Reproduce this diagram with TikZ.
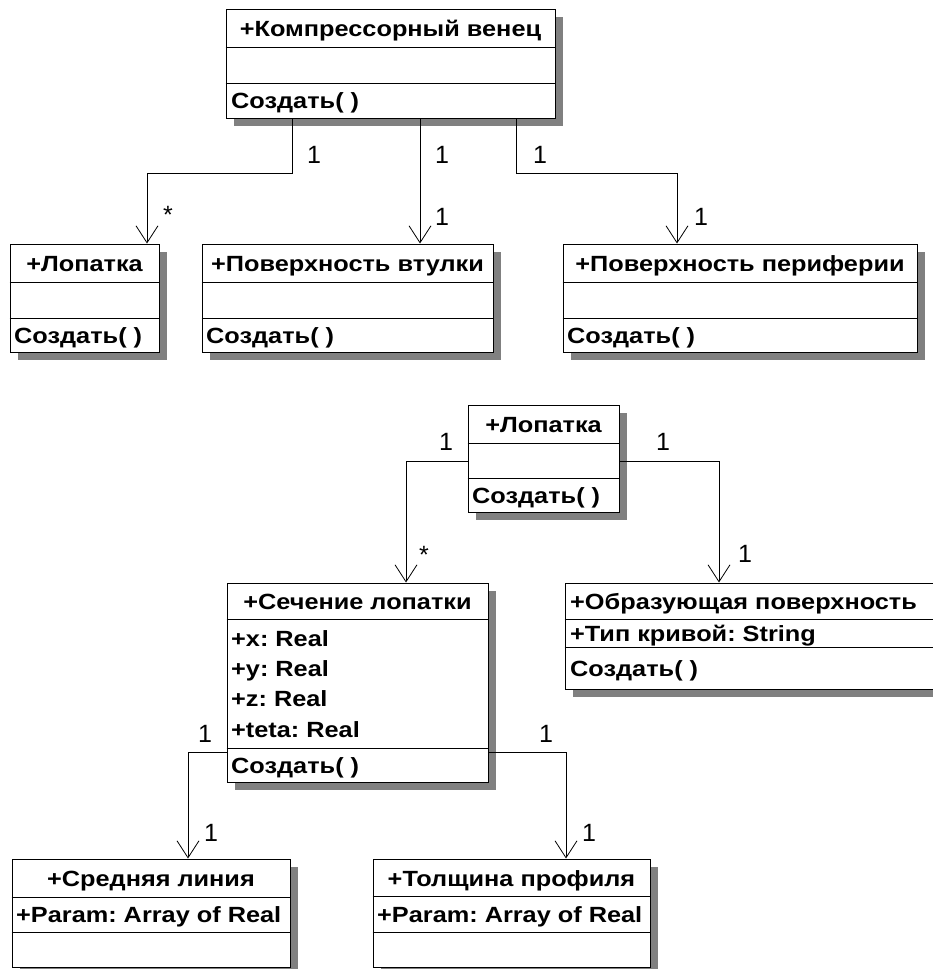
\documentclass[tikz,border=0pt]{standalone}
\usepackage{fontspec}
\setmainfont{Liberation Sans}
\newfontfamily\umlfont{Liberation Sans}[FakeStretch=1.15]
\usetikzlibrary{arrows.meta,shadows}

\tikzset{
  cls/.style={draw, line width=1pt, fill=white, inner sep=0pt,
    general shadow={fill=black!50, shadow xshift=8pt, shadow yshift=-8pt}},
  sep/.style={line width=0.8pt},
  hdr/.style={font=\umlfont\bfseries\fontsize{22}{26}\selectfont, inner sep=0pt,
    text height=15pt, text depth=0pt},
  memb/.style={hdr, anchor=west},
  mult/.style={font=\fontsize{25}{29}\selectfont, inner sep=0pt,
    text height=18pt, text depth=0pt},
  assoc/.style={line width=0.8pt, -{Straight Barb[length=17pt,width=22pt,line width=0.8pt]}}
}

\begin{document}
\frenchspacing
\begin{tikzpicture}[x=1pt, y=-1pt]
    \useasboundingbox (0,0) rectangle (933,969);

    % upper diagram
    \node[cls, minimum width=329pt, minimum height=109pt] (kv) at (390.5,63.5) {};
    \draw[sep] (kv.west |- 0,47) -- (kv.east |- 0,47);
    \draw[sep] (kv.west |- 0,83) -- (kv.east |- 0,83);
    \node[hdr] (kvname) at (kv.center |- 0,29) {+Компрессорный венец};
    \node[memb] (kvop) at (231,101) {Создать( )};

    \node[cls, minimum width=149pt, minimum height=108pt] (lopa) at (84.5,298) {};
    \draw[sep] (lopa.west |- 0,282) -- (lopa.east |- 0,282);
    \draw[sep] (lopa.west |- 0,318) -- (lopa.east |- 0,318);
    \node[hdr] (lopaname) at (lopa.center |- 0,264) {+Лопатка};
    \node[memb] (lopaop) at (14,336) {Создать( )};

    \node[cls, minimum width=291pt, minimum height=108pt] (vtul) at (347.5,298) {};
    \draw[sep] (vtul.west |- 0,282) -- (vtul.east |- 0,282);
    \draw[sep] (vtul.west |- 0,318) -- (vtul.east |- 0,318);
    \node[hdr] (vtulname) at (vtul.center |- 0,264) {+Поверхность втулки};
    \node[memb] (vtulop) at (206,336) {Создать( )};

    \node[cls, minimum width=354pt, minimum height=108pt] (perif) at (740,298) {};
    \draw[sep] (perif.west |- 0,282) -- (perif.east |- 0,282);
    \draw[sep] (perif.west |- 0,318) -- (perif.east |- 0,318);
    \node[hdr] (perifname) at (perif.center |- 0,264) {+Поверхность периферии};
    \node[memb] (perifop) at (567,336) {Создать( )};

    \draw[assoc] (292,0 |- kv.south) -- (292,173) -| (147,0 |- lopa.north);
    \draw[assoc] (420,0 |- kv.south) -- (420,0 |- vtul.north);
    \draw[assoc] (516,0 |- kv.south) -- (516,173) -| (677,0 |- perif.north);

    \node[mult] (m1) at (314,154) {1};
    \node[mult] (m2) at (168,214) {*};
    \node[mult] (m3) at (442,154) {1};
    \node[mult] (m4) at (442,216) {1};
    \node[mult] (m5) at (540,154) {1};
    \node[mult] (m6) at (701,216) {1};

    % lower diagram
    \node[cls, minimum width=151pt, minimum height=107pt] (lopb) at (543.5,458.5) {};
    \draw[sep] (lopb.west |- 0,443) -- (lopb.east |- 0,443);
    \draw[sep] (lopb.west |- 0,478) -- (lopb.east |- 0,478);
    \node[hdr] (lopbname) at (lopb.center |- 0,425) {+Лопатка};
    \node[memb] (lopbop) at (472,496) {Создать( )};

    \node[cls, minimum width=261pt, minimum height=199pt] (sech) at (357.5,682.5) {};
    \draw[sep] (sech.west |- 0,619) -- (sech.east |- 0,619);
    \draw[sep] (sech.west |- 0,748) -- (sech.east |- 0,748);
    \node[hdr] (sechname) at (sech.center |- 0,602) {+Сечение лопатки};
    \foreach \a/\yy in {x/639, y/669, z/699, teta/730} {
      \node[memb] (sech\a) at (231,\yy) {+\a: Real};
    }
    \node[memb] (sechop) at (231,766) {Создать( )};

    \node[cls, minimum width=375pt, minimum height=106pt] (obr) at (752.5,636) {};
    \draw[sep] (obr.west |- 0,619) -- (obr.east |- 0,619);
    \draw[sep] (obr.west |- 0,647) -- (obr.east |- 0,647);
    \node[memb] (obrname) at (570,602) {+Образующая поверхность};
    \node[memb] (obrattr) at (570,634) {+Тип кривой: String};
    \node[memb] (obrop) at (570,669) {Создать( )};

    \node[cls, minimum width=278pt, minimum height=108pt] (sred) at (151,913) {};
    \draw[sep] (sred.west |- 0,897) -- (sred.east |- 0,897);
    \draw[sep] (sred.west |- 0,932) -- (sred.east |- 0,932);
    \node[hdr] (sredname) at (sred.center |- 0,879) {+Средняя линия};
    \node[memb] (sredattr) at (16,915) {+Param: Array of Real};

    \node[cls, minimum width=277pt, minimum height=108pt] (tol) at (511.5,913) {};
    \draw[sep] (tol.west |- 0,896) -- (tol.east |- 0,896);
    \draw[sep] (tol.west |- 0,932) -- (tol.east |- 0,932);
    \node[hdr] (tolname) at (tol.center |- 0,879) {+Толщина профиля};
    \node[memb] (tolattr) at (377,915) {+Param: Array of Real};

    \draw[assoc] (lopb.west |- 0,461) -| (406,0 |- sech.north);
    \draw[assoc] (lopb.east |- 0,461) -| (719,0 |- obr.north);
    \draw[assoc] (sech.west |- 0,752) -| (188,0 |- sred.north);
    \draw[assoc] (sech.east |- 0,752) -| (566,0 |- tol.north);

    \node[mult] (m7) at (446,441) {1};
    \node[mult] (m8) at (424,554) {*};
    \node[mult] (m9) at (663,441) {1};
    \node[mult] (m10) at (745,553) {1};
    \node[mult] (m11) at (205,733) {1};
    \node[mult] (m12) at (211,832) {1};
    \node[mult] (m13) at (546,733) {1};
    \node[mult] (m14) at (589,832) {1};

\end{tikzpicture}
\end{document}
